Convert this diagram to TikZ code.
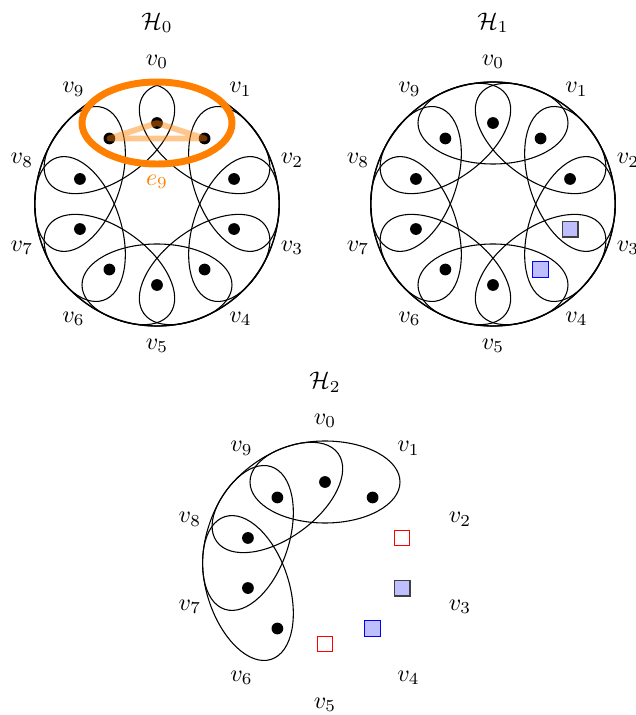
\documentclass[tikz,border=0pt]{standalone}
\begin{document}
\begin{tikzpicture}[x=0.41667pt,y=0.41667pt,
  vdot/.style={circle,fill=black,inner sep=0pt,minimum size=4.9pt},
  sqdark/.style={rectangle,fill=blue!25,draw=black!75,line width=0.5pt,inner sep=0pt,minimum size=6.6pt},
  sqblue/.style={rectangle,fill=blue!25,draw=blue,line width=0.4pt,inner sep=0pt,minimum size=6.6pt},
  sqred/.style={rectangle,fill=white,draw=red,line width=0.4pt,inner sep=0pt,minimum size=6.6pt},
  vlab/.style={inner sep=0pt},
  gtitle/.style={inner sep=0pt},
  rim/.style={line width=0.55pt},
  hedge/.style={line width=0.45pt},
  hl/.style={draw=orange,line width=2.9pt},
  tri/.style={draw=orange,line width=2.4pt,opacity=0.45,line join=round}]
\useasboundingbox (0,0) rectangle (636,715);
% ---------- H0 ----------
\begin{scope}[shift={(157,511)}]
  \node[gtitle] (t0) at (0,181) {$\mathcal{H}_0$};
  \draw[rim] (0,0) circle [radius=122];
  \foreach \k in {0,...,9} {
    \draw[hedge,rotate=-36*\k] (0,81) ellipse [x radius=75,y radius=41];
  }
  \foreach \k in {0,...,9} {
    \node[vdot] (a\k) at (90-36*\k:81) {};
    \node[vlab] (la\k) at (90-36*\k:142) {$v_{\k}$};
  }
  \draw[hl] (0,81) ellipse [x radius=75,y radius=41];
  \draw[tri] (a9.center) -- (a0.center) -- (a1.center) -- cycle;
  \node[text=orange,inner sep=0pt] (e9) at (0,22) {$e_9$};
\end{scope}
% ---------- H1 ----------
\begin{scope}[shift={(493,511)}]
  \node[gtitle] (t1) at (0,181) {$\mathcal{H}_1$};
  \draw[rim] (0,0) circle [radius=122];
  \foreach \k in {0,...,9} {
    \draw[hedge,rotate=-36*\k] (0,81) ellipse [x radius=75,y radius=41];
  }
  \foreach \k in {0,1,2,5,6,7,8,9} {
    \node[vdot] (b\k) at (90-36*\k:81) {};
  }
  \node[sqdark] (b3) at (90-36*3:81) {};
  \node[sqblue] (b4) at (90-36*4:81) {};
  \foreach \k in {0,...,9} {
    \node[vlab] (lb\k) at (90-36*\k:142) {$v_{\k}$};
  }
\end{scope}
% ---------- H2 ----------
\begin{scope}[shift={(325,152)}]
  \node[gtitle] (t2) at (0,181) {$\mathcal{H}_2$};
  \foreach \k in {7,8,9,0} {
    \draw[hedge,rotate=-36*\k] (0,81) ellipse [x radius=75,y radius=41];
  }
  \foreach \k in {0,1,6,7,8,9} {
    \node[vdot] (c\k) at (90-36*\k:81) {};
  }
  \node[sqred] (c2) at (90-36*2:81) {};
  \node[sqdark] (c3) at (90-36*3:81) {};
  \node[sqblue] (c4) at (90-36*4:81) {};
  \node[sqred] (c5) at (90-36*5:81) {};
  \foreach \k in {0,...,9} {
    \node[vlab] (lc\k) at (90-36*\k:142) {$v_{\k}$};
  }
\end{scope}
\end{tikzpicture}
\end{document}
